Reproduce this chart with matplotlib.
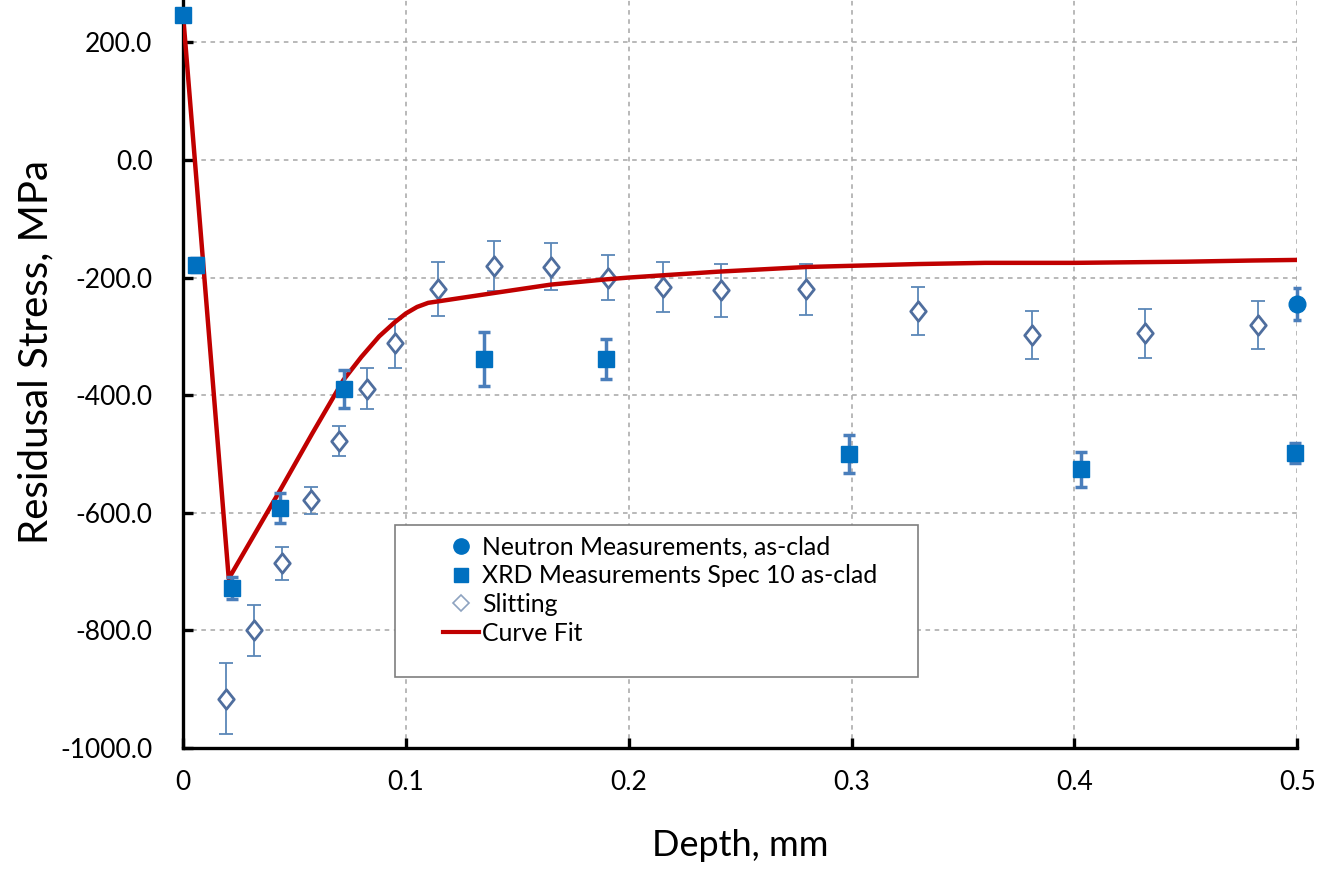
import numpy as np
import matplotlib
matplotlib.use("Agg")
import matplotlib.pyplot as plt
from matplotlib.lines import Line2D
from matplotlib.patches import Rectangle
from matplotlib.path import Path
from matplotlib.ticker import FuncFormatter, MultipleLocator

plt.rcParams['font.family'] = ['Lato', 'DejaVu Sans']
plt.rcParams['axes.unicode_minus'] = False

# neutron
neutron_x = [0.5]
neutron_y = [-245]
neutron_err = [28]

# XRD spec 10
xrd_x = [0.0, 0.006, 0.022, 0.0435, 0.072, 0.135, 0.190, 0.299, 0.403, 0.499]
xrd_y = [247, -178, -728, -592, -390, -339, -339, -500, -526, -499]
xrd_err = [0, 12, 19, 26, 32, 46, 34, 32, 30, 17]

# slitting
slit_x = [0.0192, 0.032, 0.0446, 0.0573, 0.0702, 0.0827, 0.0953, 0.1146, 0.1397,
          0.1652, 0.1906, 0.2156, 0.2413, 0.2795, 0.330, 0.3809, 0.4318, 0.4823]
slit_y = [-916, -800, -686, -579, -478, -389, -312, -220, -180,
          -182, -200, -216, -222, -220, -257, -298, -295, -281]
slit_err = [60, 43, 28, 23, 26, 35, 41, 46, 43, 40, 39, 43, 45, 43, 41, 41, 41, 41]

# curve fit
fit_x = [0, 0.0205, 0.0435, 0.058, 0.072, 0.08, 0.088, 0.095, 0.1, 0.105, 0.11, 0.14,
         0.165, 0.19, 0.2, 0.24, 0.28, 0.3, 0.33, 0.36, 0.4, 0.45, 0.48, 0.5]
fit_y = [247, -712, -562, -465, -374, -335, -300, -276, -261, -250, -243, -226,
         -212, -203, -200, -190, -182, -180, -177, -175, -175, -173, -171, -170]

blue = '#0070C0'
errc = '#4A7EBB'
slitc = '#4F6E9E'
red = '#C00000'

diamond = Path([(0, 1), (0.8, 0), (0, -1), (-0.8, 0), (0, 1)],
               [Path.MOVETO, Path.LINETO, Path.LINETO, Path.LINETO, Path.CLOSEPOLY])

fig = plt.figure(figsize=(13.17, 8.72), dpi=100)
ax = fig.add_axes([0.139, 0.1422, 0.846, 0.8578])

ax.errorbar(slit_x, slit_y, yerr=slit_err, fmt='none', ecolor='#5A87B8',
            elinewidth=1.3, capsize=5, capthick=1.3, zorder=3)
ax.plot(slit_x, slit_y, ls='none', marker=diamond, ms=14, mfc='white', mec=slitc,
        mew=2, zorder=3)
ax.plot(fit_x, fit_y, color=red, lw=3.2, zorder=4)
ax.errorbar(xrd_x, xrd_y, yerr=xrd_err, fmt='s', ms=12, color=blue, mec=blue,
            ecolor=errc, elinewidth=2.5, capsize=4, capthick=2.5, zorder=5, clip_on=False)
ax.errorbar(neutron_x, neutron_y, yerr=neutron_err, fmt='o', ms=12, color=blue,
            ecolor=errc, elinewidth=2.5, capsize=3, capthick=2.5, zorder=5, clip_on=False)

ax.set_xlim(0, 0.5)
ax.set_ylim(-1000, 272)
ax.xaxis.set_major_locator(MultipleLocator(0.1))
ax.yaxis.set_major_locator(MultipleLocator(200))
ax.xaxis.set_major_formatter(FuncFormatter(lambda v, p: '{:g}'.format(round(v, 3))))
ax.yaxis.set_major_formatter(FuncFormatter(lambda v, p: '%.1f' % v))

ax.grid(True, color='#A6A6A6', linestyle=(0, (3, 3)), linewidth=1.1)
ax.set_axisbelow(True)
for s in ['top', 'right']:
    ax.spines[s].set_visible(False)
for s in ['left', 'bottom']:
    ax.spines[s].set_linewidth(2.4)
ax.tick_params(direction='in', length=7, width=2.4, labelsize=19, colors='black')
ax.tick_params(axis='y', pad=22)
ax.tick_params(axis='x', pad=16)

ax.set_xlabel('Depth, mm', fontsize=26, labelpad=24)
ax.set_ylabel('Residusal Stress, MPa', fontsize=29)
ax.yaxis.set_label_coords(-0.115, 0.529)

# legend box
box = Rectangle((0.190, 0.095), 0.47, 0.203, transform=ax.transAxes, facecolor='white',
                edgecolor='#7F7F7F', linewidth=1.2, zorder=6)
ax.add_patch(box)

handles = [
    Line2D([], [], marker='o', ls='none', color=blue, ms=11),
    Line2D([], [], marker='s', ls='none', color=blue, ms=10),
    Line2D([], [], marker='D', ls='none', mfc='white', mec='#8EA3C0', ms=8, mew=1.2),
    Line2D([], [], color=red, lw=3),
]
labels = ['Neutron Measurements, as-clad', 'XRD Measurements Spec 10 as-clad',
          'Slitting', 'Curve Fit']
leg = ax.legend(handles, labels, loc='upper left', bbox_to_anchor=(0.228, 0.2927),
                borderaxespad=0, fontsize=17.8, frameon=False,
                handlelength=1.45, handletextpad=0.12,
                labelspacing=0.24, borderpad=0.25)
leg.set_zorder(7)

fig.savefig('out.png', dpi=100)
